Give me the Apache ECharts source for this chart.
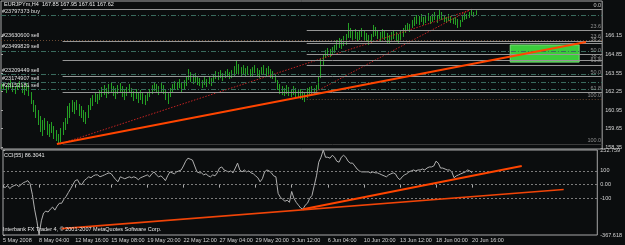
<!DOCTYPE html>
<html>
<head>
<meta charset="utf-8">
<script src="https://cdn.jsdelivr.net/npm/echarts@6/dist/echarts.min.js"></script>
<style>
html, body { margin: 0; padding: 0; background: #0b0d0e; }
#chart { width: 625px; height: 245px; }
</style>
</head>
<body>
<div id="chart"></div>
<script>
// EURJPYm H4, 5 May - 20 Jun 2008, one entry per bar (index 0..208)
var barHigh = [
  162.78,162.92,162.71,162.85,163.06,162.78,162.64,162.85,162.99,162.78,
  162.64,162.85,162.71,162.22,161.66,161.31,160.96,160.54,160.26,160.40,
  160.19,159.98,160.12,159.84,159.56,159.28,159.70,160.12,160.40,161.24,
  161.45,161.66,161.52,161.66,161.38,161.24,160.96,160.82,161.31,161.80,
  162.01,162.22,162.08,162.36,162.57,162.71,162.50,162.78,162.92,162.64,
  162.50,162.71,162.85,162.64,162.43,162.57,162.78,162.50,162.29,162.43,
  162.22,162.36,162.15,162.01,162.22,162.43,162.71,162.92,162.78,162.64,
  162.85,162.71,162.36,162.15,162.50,162.78,162.99,162.92,163.13,162.85,
  163.06,163.34,163.83,163.62,163.41,163.55,163.34,163.20,163.06,163.27,
  163.13,163.34,163.20,163.48,163.69,163.62,163.76,163.55,163.69,163.83,
  163.62,163.76,164.04,164.46,164.18,163.97,164.11,163.90,164.04,163.83,
  163.97,164.11,163.90,163.76,163.97,164.11,163.90,164.04,163.83,163.69,
  163.48,163.06,162.78,162.64,162.50,162.71,162.57,162.43,162.64,162.50,
  162.36,162.43,162.29,162.22,162.50,162.57,162.64,162.50,162.71,163.34,
  164.60,164.82,165.17,165.31,165.24,165.38,165.52,165.87,166.01,165.94,
  166.15,166.29,167.06,166.71,166.57,166.64,166.43,166.57,166.71,166.50,
  166.36,166.22,166.29,166.92,166.78,166.57,166.43,166.64,166.50,166.36,
  166.22,166.43,166.57,166.43,166.29,166.50,166.71,166.92,167.06,166.99,
  167.27,167.48,167.62,167.55,167.69,167.48,167.62,167.76,167.55,167.69,
  167.83,167.62,167.97,167.83,167.62,167.48,167.69,167.55,167.41,167.48,
  167.34,167.27,167.55,167.76,167.69,167.83,168.04,167.83,167.95
];
var barLow = [
  162.29,162.43,162.15,162.36,162.50,162.22,162.08,162.36,162.50,162.15,
  162.01,162.29,161.94,161.38,160.82,160.40,159.91,159.42,159.14,159.56,
  159.21,159.07,159.35,158.93,158.79,158.58,158.72,159.21,159.56,159.98,
  160.40,160.82,160.68,160.96,160.54,160.40,160.12,159.98,160.40,160.96,
  161.24,161.52,161.38,161.66,161.87,162.01,161.80,162.08,162.22,161.94,
  161.73,162.08,162.22,161.87,161.66,161.94,162.15,161.87,161.59,161.73,
  161.45,161.66,161.38,161.31,161.59,161.87,162.08,162.29,162.15,162.01,
  162.22,162.08,161.66,161.38,161.87,162.22,162.43,162.36,162.50,162.22,
  162.43,162.64,163.06,162.92,162.78,162.92,162.71,162.64,162.50,162.71,
  162.57,162.78,162.64,162.92,163.13,163.06,163.20,162.99,163.20,163.27,
  163.13,163.20,163.34,163.48,163.41,163.34,163.48,163.27,163.41,163.27,
  163.34,163.55,163.27,163.20,163.41,163.48,163.34,163.41,163.20,163.13,
  162.92,162.36,162.08,162.01,161.94,162.08,161.94,161.87,162.01,161.87,
  161.80,161.73,161.66,161.52,161.80,161.94,162.08,162.01,162.22,162.36,
  163.20,164.04,164.60,164.74,164.67,164.82,164.96,165.17,165.31,165.24,
  165.45,165.52,166.01,166.01,165.87,165.94,165.73,165.87,166.08,165.87,
  165.73,165.52,165.66,166.08,166.15,165.94,165.80,166.01,165.87,165.66,
  165.59,165.73,165.94,165.80,165.66,165.87,166.08,166.36,166.50,166.43,
  166.71,166.85,166.99,166.92,167.13,166.92,167.06,167.20,166.99,167.13,
  167.27,167.06,167.34,167.27,167.13,167.06,167.20,167.06,166.99,166.92,
  166.71,166.78,167.13,167.27,167.34,167.41,167.55,167.48,167.61
];
var cci = [
  -14,-21,-7,-29,-14,-7,0,-14,0,14,
  21,29,7,-71,-179,-264,-367.618,-264,-207,-193,
  -200,-179,-164,-186,-157,-136,-136,-107,-86,-57,
  -29,0,29,36,7,0,29,43,57,50,
  64,71,71,57,64,71,79,86,79,57,
  36,21,57,50,43,50,57,50,57,50,
  36,50,57,64,71,57,79,93,71,57,
  64,50,29,64,93,86,79,93,100,107,
  136,171,193,186,179,136,93,86,86,71,
  79,64,57,71,64,86,121,129,107,100,
  93,100,86,121,157,107,93,107,93,100,
  86,79,64,50,21,43,93,107,100,86,
  64,57,-64,-93,-107,-121,-114,-129,-50,-100,
  -129,-150,-171,-179,-150,-136,-100,-79,-7,64,
  164,200,252.759,200,200,193,214,200,171,164,
  200,214,200,171,157,157,136,114,100,93,
  93,93,93,86,93,86,86,79,71,64,
  57,71,79,86,79,50,36,57,71,79,
  93,100,107,100,107,107,114,107,121,129,
  129,136,171,157,121,121,114,107,107,93,
  50,64,71,79,86,93,107,100,86.3041
];

var timeTicks = [0, 16, 32, 48, 64, 80, 96, 112, 128, 144, 160, 176, 192, 208];
var timeLabels = ['5 May 2008', '8 May 04:00', '12 May 16:00', '15 May 08:00', '19 May 20:00',
  '22 May 12:00', '27 May 04:00', '29 May 20:00', '3 Jun 12:00', '6 Jun 04:00',
  '10 Jun 20:00', '13 Jun 12:00', '18 Jun 00:00', '20 Jun 16:00'];
var priceTicks = [158.35, 159.65, 160.95, 162.25, 163.55, 164.85, 166.15];
var cciTicks = [252.759, 100, 0, -100, -367.618];
var cciTickText = ['252.759', '100', '0.00', '-100', '-367.618'];
var lastPrice = 167.62;

// fibo retracements: start bar, 0% price, 100% price
var fiboA = [134, 168.04, 161.70];
var fiboB = [27, 168.04, 158.58];
var fiboLevels = [0, 23.6, 38.2, 50, 61.8, 100];

// open orders
var orderName = ['#23797373 buy', '#23630600 sell', '#23499829 sell', '#23209449 sell', '#23174907 sell', '#23152181 sell'];
var orderPrice = [167.60, 165.87, 165.10, 163.48, 162.89, 162.43];

// drawn objects (bar index, price / cci value)
var trendMain = [[24.5, 158.58], [256.4, 165.73]];
var trendDot1 = [[25.8, 158.58], [205.8, 167.97]];
var trendDot2 = [[133.5, 161.87], [206.2, 168.04]];
var rectBox = [223.2, 165.52, 253.4, 164.32];
var trendCci1 = [[133, -179], [230, 136]];
var trendCci2 = [[26, -321], [248.6, -36]];
var cciLevels = [100, 0, -100];

var font = 'Liberation Sans';
var fs = 5.5;
var xEnd = 263.5;

function fiboLines(f, dark) {
  var out = [];
  fiboLevels.forEach(function (lv) {
    var p = f[1] - (f[1] - f[2]) * lv / 100;
    var c = lv === 100 ? dark : '#969696';
    out.push([
      { coord: [f[0], p], lineStyle: { color: c, width: 1, type: lv === 100 && dark !== '#3a3a3a' ? [1, 2] : 'solid' },
        label: { show: true, position: 'insideEndTop', distance: 1, formatter: lv.toFixed(1),
          color: '#8e8e8e', fontSize: fs, fontFamily: font } },
      { coord: [xEnd, p] }
    ]);
  });
  return out;
}

function orderLines() {
  return orderPrice.map(function (p, i) {
    var dotted = i === 1;
    return [
      { coord: [0, p], lineStyle: { color: dotted ? '#6b4a33' : '#3a6b5e', width: 1, type: dotted ? [1, 2] : [5, 2, 1, 2] },
        label: { show: true, position: 'insideStartTop', distance: 1, formatter: orderName[i],
          color: '#e0e0e0', fontSize: fs, fontFamily: font } },
      { coord: [xEnd, p] }
    ];
  });
}

var chart = echarts.init(document.getElementById('chart'));

var option = {
  backgroundColor: '#0b0d0e',
  animation: false,
  grid: [
    { left: 1, right: 21, top: 1, height: 148, show: true, borderColor: '#a8a8a8', borderWidth: 1, backgroundColor: 'transparent' },
    { left: 1, right: 21, top: 150, height: 85, show: true, borderColor: '#a8a8a8', borderWidth: 1, backgroundColor: 'transparent' }
  ],
  xAxis: [
    { type: 'value', gridIndex: 0, min: 0, max: xEnd, show: false },
    {
      type: 'value', gridIndex: 1, min: 0, max: xEnd,
      axisLine: { show: false },
      splitLine: { show: false },
      axisTick: { customValues: timeTicks, length: 3, lineStyle: { color: '#a8a8a8' } },
      axisLabel: {
        customValues: timeTicks, align: 'left', margin: 2,
        color: '#d4d4d4', fontSize: fs, fontFamily: font,
        formatter: function (v) { var k = timeTicks.indexOf(Math.round(v)); return k < 0 ? '' : timeLabels[k]; }
      }
    }
  ],
  yAxis: [
    {
      type: 'value', gridIndex: 0, position: 'right', min: 158.23, max: 168.6,
      axisLine: { show: false }, splitLine: { show: false },
      axisTick: { customValues: priceTicks, length: 2, lineStyle: { color: '#a8a8a8' } },
      axisLabel: {
        customValues: priceTicks, margin: 3, color: '#d4d4d4', fontSize: fs, fontFamily: font,
        formatter: function (v) { return v.toFixed(2); }
      }
    },
    {
      type: 'value', gridIndex: 1, position: 'right', min: -367.618, max: 252.759,
      axisLine: { show: false }, splitLine: { show: false },
      axisTick: { customValues: cciTicks, length: 2, lineStyle: { color: '#a8a8a8' } },
      axisLabel: {
        customValues: cciTicks, margin: 3, color: '#d4d4d4', fontSize: fs, fontFamily: font,
        formatter: function (v) {
          for (var k = 0; k < cciTicks.length; k++) { if (Math.abs(cciTicks[k] - v) < 0.01) return cciTickText[k]; }
          return '';
        }
      }
    }
  ],
  graphic: [
    { type: 'text', left: 4, top: 1, z: 100, style: { text: 'EURJPYm,H4  167.85 167.95 167.61 167.62', fill: '#e8e8e8', font: fs + 'px "' + font + '"' } },
    { type: 'text', left: 4, top: 152, z: 100, style: { text: 'CCI(55) 86.3041', fill: '#e8e8e8', font: fs + 'px "' + font + '"' } },
    { type: 'text', left: 3, top: 226, z: 100, style: { text: 'Interbank FX Trader 4, \u00a9 2001-2007 MetaQuotes Software Corp.', fill: '#e8e8e8', font: fs + 'px "' + font + '"' } }
  ],
  series: [
    {
      // rectangle object
      type: 'line', xAxisIndex: 0, yAxisIndex: 0, data: [], z: 1, silent: true,
      markArea: {
        silent: true,
        itemStyle: { color: '#3bcb3b', borderColor: '#79e079', borderWidth: 1 },
        data: [[{ coord: [rectBox[0], rectBox[1]] }, { coord: [rectBox[2], rectBox[3]] }]]
      }
    },
    {
      type: 'custom', xAxisIndex: 0, yAxisIndex: 0, z: 2, silent: true, clip: true,
      data: barHigh.map(function (h, i) { return [i, barLow[i], h]; }),
      encode: { x: 0, y: [1, 2] },
      renderItem: function (params, api) {
        var lo = api.coord([api.value(0), api.value(1)]);
        var hi = api.coord([api.value(0), api.value(2)]);
        var x = Math.round(lo[0]) + 0.5;
        return { type: 'line', shape: { x1: x, y1: lo[1], x2: x, y2: hi[1] }, style: { stroke: '#25a025', lineWidth: 1 } };
      }
    },
    {
      // fibo levels and order lines
      type: 'line', xAxisIndex: 0, yAxisIndex: 0, data: [], z: 3, silent: true,
      markLine: {
        silent: true, symbol: ['none', 'none'],
        data: fiboLines(fiboB, '#3a3a3a').concat(fiboLines(fiboA, '#6b4a33')).concat(orderLines()).concat([
          [{ coord: [0, lastPrice], lineStyle: { opacity: 0 },
             label: { show: true, position: 'end', distance: 1, formatter: lastPrice.toFixed(2), color: '#000',
               backgroundColor: '#ffffff', padding: [1, 1, 0, 1], fontSize: fs, fontFamily: font } },
           { coord: [xEnd, lastPrice] }]
        ])
      }
    },
    { type: 'line', xAxisIndex: 0, yAxisIndex: 0, z: 4, data: trendDot1, symbol: 'none', silent: true,
      lineStyle: { color: '#c42222', width: 1, type: [1.5, 1.5] } },
    { type: 'line', xAxisIndex: 0, yAxisIndex: 0, z: 4, data: trendDot2, symbol: 'none', silent: true,
      lineStyle: { color: '#c42222', width: 1, type: [1.5, 1.5] } },
    { type: 'line', xAxisIndex: 0, yAxisIndex: 0, z: 5, data: trendMain, symbol: 'none', silent: true,
      lineStyle: { color: '#ff4500', width: 2 } },
    {
      type: 'line', xAxisIndex: 1, yAxisIndex: 1, z: 3, symbol: 'none', silent: true,
      data: cci.map(function (v, i) { return [i, v]; }),
      lineStyle: { color: '#b0b0b0', width: 1 },
      markLine: {
        silent: true, symbol: ['none', 'none'], label: { show: false },
        lineStyle: { color: '#7c7c7c', width: 1, type: [2, 2] },
        data: cciLevels.map(function (v) { return { yAxis: v }; })
      }
    },
    { type: 'line', xAxisIndex: 1, yAxisIndex: 1, z: 5, data: trendCci1, symbol: 'none', silent: true,
      lineStyle: { color: '#ff4500', width: 2 } },
    { type: 'line', xAxisIndex: 1, yAxisIndex: 1, z: 5, data: trendCci2, symbol: 'none', silent: true,
      lineStyle: { color: '#f04408', width: 1.6 } }
  ]
};

chart.setOption(option);
</script>
</body>
</html>
